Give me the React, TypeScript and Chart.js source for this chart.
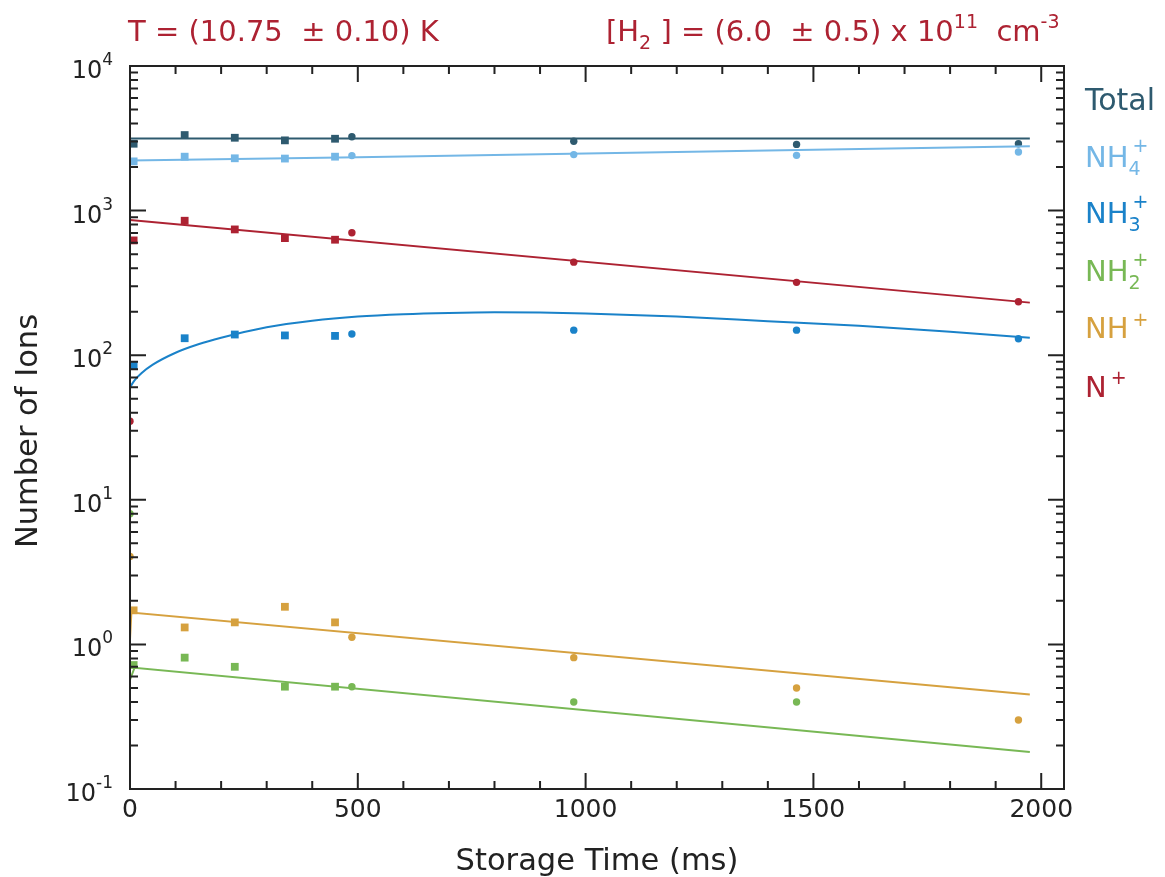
import React, { useEffect, useRef } from "react";
import { Chart, registerables } from "chart.js";

Chart.register(...registerables);

// ---- data ----
const squareTimes = [8, 120, 230, 340, 450];
const circleTimes = [0, 487, 974, 1463, 1950];

const totalSquares = [2900, 3330, 3190, 3060, 3140];
const nh4Squares = [2190, 2360, 2300, 2290, 2360];
const nh3Squares = [85, 131, 139, 137, 136];
const nh2Squares = [0.72, 0.81, 0.7, 0.51, 0.51];
const nhSquares = [1.72, 1.31, 1.42, 1.82, 1.42];
const nSquares = [622, 851, 741, 645, 629];

const totalCircles = [null, 3240, 3020, 2870, 2900];
const nh4Circles = [null, 2400, 2440, 2410, 2540];
const nh3Circles = [null, 140, 149, 149, 130];
const nh2Circles = [8.0, 0.51, 0.4, 0.4, null];
const nhCircles = [4.06, 1.12, 0.81, 0.5, 0.3];
const nCircles = [35, 703, 440, 319, 234];

const totalFitX = [0, 1975];
const totalFitY = [3150, 3150];
const nh4FitX = [0, 500, 1000, 1500, 1975];
const nh4FitY = [2220, 2340, 2480, 2640, 2790];
const nh3FitX = [0, 10, 25, 50, 100, 150, 200, 300, 400, 500, 600, 700, 800, 900, 1000, 1200, 1400, 1600, 1800, 1975];
const nh3FitY = [60, 67, 75, 86, 104, 119, 132, 156, 173, 185, 192, 196, 198, 197, 194, 185, 172, 160, 145, 132];
const nh2FitX = [0, 10, 1975];
const nh2FitY = [0.57, 0.69, 0.18];
const nhFitX = [0, 3, 1975];
const nhFitY = [1.08, 1.66, 0.45];
const nFitX = [0, 1975];
const nFitY = [860, 231];

const xTickLabels = ["0", "500", "1000", "1500", "2000"];
const xTickValues = [0, 500, 1000, 1500, 2000];
const yDecades = [-1, 0, 1, 2, 3, 4];

const COLORS = {
  total: "#2e5a6f",
  nh4: "#74b7e6",
  nh3: "#1a82c9",
  nh2: "#78b855",
  nh: "#d6a13f",
  n: "#ad2232",
};
const INK = "#222222";
const FONT = "'DejaVu Sans', sans-serif";

function pts(xs: number[], ys: (number | null)[]) {
  const out: { x: number; y: number }[] = [];
  xs.forEach((x, i) => {
    const y = ys[i];
    if (y !== null && y !== undefined) out.push({ x, y });
  });
  return out;
}

type Seg = { t: string; size: number; dy?: number; dx?: number; noAdvance?: boolean };

function drawRich(ctx: CanvasRenderingContext2D, x: number, y: number, segs: Seg[], color: string, align: "left" | "right" = "left") {
  ctx.save();
  ctx.fillStyle = color;
  ctx.textBaseline = "alphabetic";
  ctx.textAlign = "left";
  let total = 0;
  for (const s of segs) {
    ctx.font = `${s.size}px ${FONT}`;
    if (!s.noAdvance) total += ctx.measureText(s.t).width + (s.dx || 0);
  }
  let cx = align === "right" ? x - total : x;
  for (const s of segs) {
    ctx.font = `${s.size}px ${FONT}`;
    ctx.fillText(s.t, cx + (s.dx || 0), y + (s.dy || 0));
    if (!s.noAdvance) cx += ctx.measureText(s.t).width + (s.dx || 0);
  }
  ctx.restore();
}

const decorPlugin = {
  id: "decor",
  afterDatasetsDraw(chart: any) {
    const ctx: CanvasRenderingContext2D = chart.ctx;
    const { left, right, top, bottom } = chart.chartArea;
    const xs = chart.scales.x;
    const ys = chart.scales.y;
    ctx.save();
    ctx.strokeStyle = INK;
    ctx.lineWidth = 2;
    ctx.strokeRect(left, top, right - left, bottom - top);

    // y ticks (log)
    for (const d of yDecades) {
      const major = Math.pow(10, d);
      const py = ys.getPixelForValue(major);
      ctx.beginPath();
      ctx.moveTo(left, py); ctx.lineTo(left + 16, py);
      ctx.moveTo(right, py); ctx.lineTo(right - 16, py);
      ctx.stroke();
      if (d < 4) {
        for (let k = 2; k <= 9; k++) {
          const p = ys.getPixelForValue(k * major);
          ctx.beginPath();
          ctx.moveTo(left, p); ctx.lineTo(left + 8, p);
          ctx.moveTo(right, p); ctx.lineTo(right - 8, p);
          ctx.stroke();
        }
      }
    }
    // x ticks
    for (let v = 0; v <= 2000; v += 100) {
      const px = xs.getPixelForValue(v);
      const len = v % 500 === 0 ? 16 : 8;
      ctx.beginPath();
      ctx.moveTo(px, bottom); ctx.lineTo(px, bottom - len);
      ctx.moveTo(px, top); ctx.lineTo(px, top + len);
      ctx.stroke();
    }
    ctx.restore();

    // x labels
    ctx.save();
    ctx.fillStyle = INK;
    ctx.font = `25px ${FONT}`;
    ctx.textAlign = "center";
    ctx.textBaseline = "alphabetic";
    xTickValues.forEach((v, i) => {
      ctx.fillText(xTickLabels[i], xs.getPixelForValue(v), bottom + 28);
    });
    ctx.restore();

    // y labels
    for (const d of yDecades) {
      const py = ys.getPixelForValue(Math.pow(10, d));
      drawRich(ctx, left - 17, py, [
        { t: "10", size: 24, dy: 12 },
        { t: String(d), size: 17, dy: -1 },
      ], INK, "right");
    }

    // axis titles
    ctx.save();
    ctx.fillStyle = INK;
    ctx.font = `30.5px ${FONT}`;
    ctx.textAlign = "center";
    ctx.textBaseline = "alphabetic";
    ctx.fillText("Storage Time (ms)", (left + right) / 2, 870);
    ctx.translate(37, 431);
    ctx.rotate(-Math.PI / 2);
    ctx.fillText("Number of Ions", 0, 0);
    ctx.restore();

    // top annotations
    drawRich(ctx, 128, 41, [{ t: "T = (10.75  \u00b1 0.10) K", size: 29 }], COLORS.n);
    drawRich(ctx, 606, 41, [
      { t: "[H", size: 29 },
      { t: "2", size: 19, dy: 8 },
      { t: " ] = (6.0  \u00b1 0.5) x 10", size: 29 },
      { t: "11", size: 19, dy: -13 },
      { t: "  cm", size: 29 },
      { t: "-3", size: 19, dy: -13 },
    ], COLORS.n);

    // legend
    const lx = 1085;
    drawRich(ctx, lx, 110, [{ t: "Total", size: 30 }], COLORS.total);
    drawRich(ctx, lx, 167, [
      { t: "NH", size: 29 },
      { t: "4", size: 19, dy: 8, noAdvance: true },
      { t: "+", size: 19, dy: -15, dx: 4 },
    ], COLORS.nh4);
    drawRich(ctx, lx, 223, [
      { t: "NH", size: 29 },
      { t: "3", size: 19, dy: 8, noAdvance: true },
      { t: "+", size: 19, dy: -15, dx: 4 },
    ], COLORS.nh3);
    drawRich(ctx, lx, 281, [
      { t: "NH", size: 29 },
      { t: "2", size: 19, dy: 8, noAdvance: true },
      { t: "+", size: 19, dy: -15, dx: 4 },
    ], COLORS.nh2);
    drawRich(ctx, lx, 338, [
      { t: "NH", size: 29 },
      { t: "+", size: 19, dy: -12, dx: 4 },
    ], COLORS.nh);
    drawRich(ctx, lx, 397, [
      { t: "N", size: 29 },
      { t: "+", size: 19, dy: -13, dx: 4 },
    ], COLORS.n);
  },
};

function sq(label: string, xs: number[], ys: (number | null)[], color: string) {
  return {
    label, data: pts(xs, ys), showLine: false, pointStyle: "rect", pointRadius: 5.5,
    pointBorderWidth: 0, backgroundColor: color, borderColor: color, clip: 0,
  };
}
function ci(label: string, xs: number[], ys: (number | null)[], color: string) {
  return {
    label, data: pts(xs, ys), showLine: false, pointStyle: "circle", pointRadius: 3.7,
    pointBorderWidth: 0, backgroundColor: color, borderColor: color, clip: 0,
  };
}
function fit(label: string, xs: number[], ys: number[], color: string, curve = false) {
  return {
    label, data: pts(xs, ys), showLine: true, pointRadius: 0, borderWidth: 2,
    borderColor: color, backgroundColor: color, fill: false, clip: 0,
    tension: curve ? 0.4 : 0, cubicInterpolationMode: curve ? "monotone" : "default",
  };
}

export default function App() {
  const ref = useRef<HTMLCanvasElement | null>(null);
  useEffect(() => {
    document.body.style.margin = "0";
    const canvas = ref.current!;
    const chart = new Chart(canvas, {
      type: "scatter",
      data: {
        datasets: [
          fit("NH2+ fit", nh2FitX, nh2FitY, COLORS.nh2),
          fit("NH+ fit", nhFitX, nhFitY, COLORS.nh),
          fit("NH3+ fit", nh3FitX, nh3FitY, COLORS.nh3, true),
          fit("N+ fit", nFitX, nFitY, COLORS.n),
          fit("NH4+ fit", nh4FitX, nh4FitY, COLORS.nh4),
          fit("Total fit", totalFitX, totalFitY, COLORS.total),
          sq("NH2+", squareTimes, nh2Squares, COLORS.nh2),
          ci("NH2+ b", circleTimes, nh2Circles, COLORS.nh2),
          sq("NH+", squareTimes, nhSquares, COLORS.nh),
          ci("NH+ b", circleTimes, nhCircles, COLORS.nh),
          sq("NH3+", squareTimes, nh3Squares, COLORS.nh3),
          ci("NH3+ b", circleTimes, nh3Circles, COLORS.nh3),
          sq("N+", squareTimes, nSquares, COLORS.n),
          ci("N+ b", circleTimes, nCircles, COLORS.n),
          sq("NH4+", squareTimes, nh4Squares, COLORS.nh4),
          ci("NH4+ b", circleTimes, nh4Circles, COLORS.nh4),
          sq("Total", squareTimes, totalSquares, COLORS.total),
          ci("Total b", circleTimes, totalCircles, COLORS.total),
        ] as any,
      },
      options: {
        animation: false,
        responsive: false,
        devicePixelRatio: 1,
        layout: { padding: { top: 66, right: 101, left: 0, bottom: 0 } },
        plugins: {
          legend: { display: false },
          tooltip: { enabled: false },
          title: { display: false },
        },
        scales: {
          x: {
            type: "linear", min: 0, max: 2050,
            ticks: { display: false }, grid: { display: false }, border: { display: false },
            afterFit: (s: any) => { s.height = 88; },
          },
          y: {
            type: "logarithmic", min: 0.1, max: 10000,
            ticks: { display: false }, grid: { display: false }, border: { display: false },
            afterFit: (s: any) => { s.width = 130; },
          },
        },
      } as any,
      plugins: [decorPlugin],
    });
    return () => chart.destroy();
  }, []);
  return (
    <div style={{ width: 1165, height: 877, background: "#fff" }}>
      <canvas ref={ref} width={1165} height={877} style={{ display: "block", width: 1165, height: 877 }} />
    </div>
  );
}
